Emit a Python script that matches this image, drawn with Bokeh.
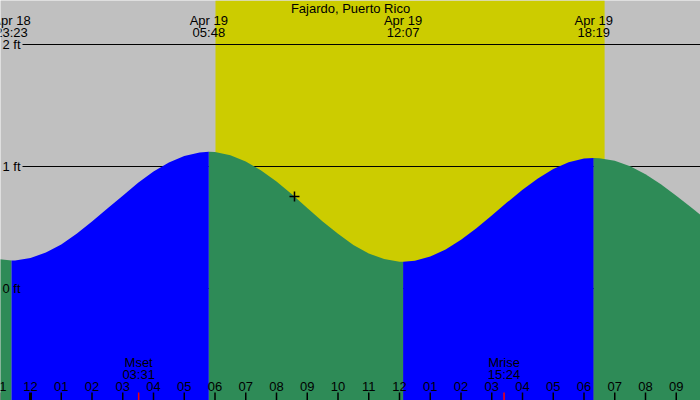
from bokeh.plotting import figure
from bokeh.models import Range1d, ColumnDataSource, LabelSet, Label
from bokeh.embed import file_html
from bokeh.resources import INLINE
from bokeh.core.properties import value

# ---------------- data (hours relative to midnight, Apr 19) ----------------
station = "Fajardo, Puerto Rico"

hour_ticks = list(range(-1, 23))
hour_labels = ["11", "12", "01", "02", "03", "04", "05", "06", "07", "08", "09", "10",
               "11", "12", "01", "02", "03", "04", "05", "06", "07", "08", "09", "10"]

# tide height every half hour
tide_hours = [h / 2 for h in range(-2, 45)]
tide_ft = [0.24, 0.23,
           0.25, 0.295, 0.36, 0.448, 0.55, 0.655, 0.76, 0.867, 0.96, 1.033,
           1.086, 1.115, 1.118, 1.093, 1.042, 0.968, 0.877, 0.772, 0.66, 0.55,
           0.449, 0.357, 0.287, 0.241, 0.22, 0.228, 0.262, 0.32, 0.40, 0.494,
           0.598, 0.706, 0.809, 0.902, 0.979, 1.034, 1.065, 1.068, 1.047, 1.003,
           0.937, 0.855, 0.761, 0.661, 0.56]

ext_hours = [-0.617, 5.8, 12.117, 18.317]
ext_ft = [0.23, 1.12, 0.22, 1.07]
ext_kind = ["low", "high", "low", "high"]
ext_date = ["Apr 18", "Apr 19", "Apr 19", "Apr 19"]
ext_clock = ["23:23", "05:48", "12:07", "18:19"]

sun_hours = [6.016, 18.67]          # sunrise 06:01, sunset 18:40

moon_hours = [3.517, 15.4]
moon_event = ["Mset", "Mrise"]
moon_clock = ["03:31", "15:24"]

grid_ft = [0, 1, 2]
grid_labels = ["0 ft", "1 ft", "2 ft"]

now_hour = 8.585
now_ft = 0.754

# ---------------- layout ----------------
W, H = 700, 400
PX_PER_HOUR = 30.75
PX_PER_FT = 122.0
x_min = -30 / PX_PER_HOUR
x_max = x_min + W / PX_PER_HOUR
y_max = 288 / PX_PER_FT
y_min = y_max - H / PX_PER_FT

GRAY = "#c0c0c0"
YELLOW = "#cccc00"
BLUE = "#0000ff"
GREEN = "#2e8b57"
FONT = value("Liberation Sans")
FS = "13px"

p = figure(width=W, height=H, output_backend="svg", toolbar_location=None,
           x_range=Range1d(x_min, x_max), y_range=Range1d(y_min, y_max),
           min_border=0, min_border_left=0, min_border_right=0,
           min_border_top=0, min_border_bottom=0)
p.axis.visible = False
p.xgrid.visible = False
p.ygrid.visible = False
p.outline_line_color = None
p.background_fill_color = GRAY
p.border_fill_color = GRAY

# daylight
p.quad(left=[sun_hours[0]], right=[sun_hours[1]], bottom=[y_min], top=[y_max],
       fill_color=YELLOW, line_color=None)

# horizontal ft lines
line_x0 = x_min + 22 / PX_PER_HOUR
p.segment(x0=[line_x0] * len(grid_ft), x1=[x_max] * len(grid_ft), y0=grid_ft, y1=grid_ft,
          line_color="black", line_width=1)

# tide fill split into rising / falling parts
pts = sorted(zip(tide_hours + ext_hours, tide_ft + ext_ft))
bounds = [x_min - 10] + ext_hours + [x_max + 10]
for i in range(len(bounds) - 1):
    a, b = bounds[i], bounds[i + 1]
    seg = [(t, h) for t, h in pts if a <= t <= b]
    if len(seg) < 2:
        continue
    rising = (i > 0 and ext_kind[i - 1] == "low")
    xs = [s[0] for s in seg]
    ys = [s[1] for s in seg]
    p.varea(x=xs, y1=[y_min] * len(xs), y2=ys, fill_color=BLUE if rising else GREEN)

# ft labels
ft_src = ColumnDataSource(dict(x=[x_min + 20 / PX_PER_HOUR] * 3, y=grid_ft, t=grid_labels))
p.text(x="x", y="y", text="t", source=ft_src, text_align="right", text_baseline="middle",
       text_font=FONT, text_font_size=FS, text_color="black")

# current-time marker
p.scatter(x=[now_hour], y=[now_ft], marker="cross", size=10, line_color="black", line_width=1.5)

# title
p.add_layout(Label(x=W / 2, y=H - 7.5, x_units="screen", y_units="screen", text=station,
                   text_align="center", text_baseline="middle", text_font="Liberation Sans",
                   text_font_size=FS, text_color="black"))


def labels(src, field, ypix):
    p.add_layout(LabelSet(x="x", y=H - ypix, y_units="screen", text=field, source=src,
                          text_align="center", text_baseline="middle", text_font=FONT,
                          text_font_size=FS, text_color="black"))


# extreme labels (date + time)
ext_src = ColumnDataSource(dict(x=ext_hours, d=ext_date, c=ext_clock))
labels(ext_src, "d", 19.5)
labels(ext_src, "c", 31.5)

# hour labels and ticks
tick_top = y_max - 392 / PX_PER_FT
hr_src = ColumnDataSource(dict(x=hour_ticks, t=hour_labels))
labels(hr_src, "t", 386)
widths = [3 if h % 24 == 0 else 1.5 for h in hour_ticks]
p.segment(x0=hour_ticks, x1=hour_ticks, y0=[tick_top] * len(hour_ticks),
          y1=[y_min] * len(hour_ticks), line_color="black", line_width=widths)

# moon events
p.segment(x0=moon_hours, x1=moon_hours, y0=[tick_top] * len(moon_hours),
          y1=[y_min] * len(moon_hours), line_color="red", line_width=1.5)
moon_src = ColumnDataSource(dict(x=moon_hours, e=moon_event, c=moon_clock))
labels(moon_src, "e", 362)
labels(moon_src, "c", 374)

open("out.html", "w").write(file_html(p, INLINE))
